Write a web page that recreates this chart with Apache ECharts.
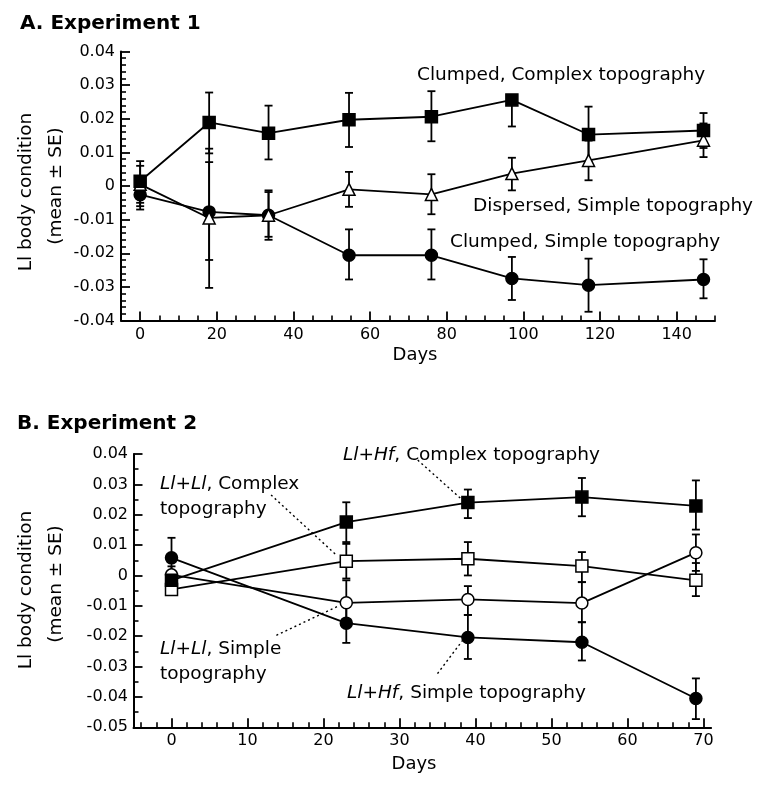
<!DOCTYPE html>
<html>
<head>
<meta charset="utf-8">
<script src="https://cdn.jsdelivr.net/npm/echarts@6/dist/echarts.min.js"></script>
<style>html,body{margin:0;padding:0;background:#fff;}#c{width:765px;height:787px;}</style>
</head>
<body>
<div id="c"></div>
<script>
// ---------- Panel A data (Experiment 1) ----------
const daysA = [0, 18, 33.5, 54.5, 76, 97, 117, 147];
const clumpedComplexMean = [0.0014, 0.0189, 0.0157, 0.0197, 0.0206, 0.0256, 0.0153, 0.0165];
const clumpedComplexLow  = [-0.005, 0.0097, 0.0079, 0.0116, 0.0133, 0.0177, 0.0072, 0.0113];
const clumpedComplexHigh = [0.0074, 0.0278, 0.0239, 0.0277, 0.0282, 0.0270, 0.0236, 0.0217];
const dispersedSimpleMean = [0.0005, -0.0095, -0.0087, -0.0010, -0.0025, 0.0037, 0.0076, 0.0136];
const dispersedSimpleLow  = [-0.006, -0.0303, -0.0160, -0.0062, -0.0084, -0.0013, 0.0017, 0.0086];
const dispersedSimpleHigh = [0.006, 0.0111, -0.0013, 0.0042, 0.0035, 0.0084, 0.0135, 0.0186];
const clumpedSimpleMean = [-0.0026, -0.0077, -0.0087, -0.0206, -0.0206, -0.0275, -0.0295, -0.0278];
const clumpedSimpleLow  = [-0.0070, -0.0220, -0.0151, -0.0278, -0.0278, -0.0339, -0.0374, -0.0334];
const clumpedSimpleHigh = [0.0020, 0.0071, -0.0018, -0.0129, -0.0129, -0.0211, -0.0216, -0.0218];

// ---------- Panel B data (Experiment 2) ----------
const daysB = [0, 23, 39, 54, 69];
const hfComplexMean = [-0.0016, 0.0176, 0.0240, 0.0258, 0.0229];
const hfComplexLow  = [-0.0050, 0.0110, 0.0189, 0.0195, 0.0151];
const hfComplexHigh = [0.0010, 0.0241, 0.0283, 0.0321, 0.0313];
const llComplexMean = [-0.0046, 0.0047, 0.0055, 0.0031, -0.0016];
const llComplexLow  = [-0.0062, -0.0010, 0.0000, -0.0022, -0.0068];
const llComplexHigh = [-0.0030, 0.0104, 0.0110, 0.0077, 0.0041];
const llSimpleMean = [0.0002, -0.0090, -0.0079, -0.0091, 0.0075];
const llSimpleLow  = [-0.0030, -0.0155, -0.0130, -0.0154, 0.0015];
const llSimpleHigh = [0.0030, -0.0016, -0.0035, -0.0022, 0.0135];
const hfSimpleMean = [0.0058, -0.0157, -0.0204, -0.0220, -0.0405];
const hfSimpleLow  = [-0.0010, -0.0222, -0.0275, -0.0280, -0.0473];
const hfSimpleHigh = [0.0124, -0.0090, -0.0130, -0.0154, -0.0339];

// ---------- Tick values ----------
const xMajorA = [0, 20, 40, 60, 80, 100, 120, 140];
const xMinorA = [5, 10, 15, 25, 30, 35, 45, 50, 55, 65, 70, 75, 85, 90, 95, 105, 110, 115, 125, 130, 135, 145, 150];
const xMajorB = [0, 10, 20, 30, 40, 50, 60, 70];
const xMinorB = [-4, -2, 2, 4, 6, 8, 12, 14, 16, 18, 22, 24, 26, 28, 32, 34, 36, 38, 42, 44, 46, 48, 52, 54, 56, 58, 62, 64, 66, 68];

// ---------- Leader lines (panel B, data coords) ----------
const leaders = [
  [[13.1, 0.0265], [21.7, 0.0067]],
  [[32.4, 0.0380], [38.3, 0.0248]],
  [[13.8, -0.0197], [22.1, -0.0099]],
  [[35.0, -0.0323], [38.3, -0.0214]]
];

const FONT = '"DejaVu Sans", "Liberation Sans", sans-serif';
const BLACK = '#000';

function xAxesFor(grid, min, max, major, minor) {
  return [
    {
      type: 'value', gridIndex: grid, min: min, max: max, position: 'bottom',
      axisLine: { show: true, onZero: false, lineStyle: { color: BLACK, width: 2 } },
      axisTick: { show: true, inside: true, length: 9, customValues: major, lineStyle: { color: BLACK, width: 1.8 } },
      axisLabel: { show: true, customValues: major, margin: 6, color: BLACK, fontSize: 16, fontFamily: FONT },
      splitLine: { show: false }
    },
    {
      type: 'value', gridIndex: grid, min: min, max: max, position: 'bottom',
      axisLine: { show: false, onZero: false },
      axisTick: { show: true, inside: true, length: 5, customValues: minor, lineStyle: { color: BLACK, width: 1.6 } },
      axisLabel: { show: false },
      splitLine: { show: false }
    }
  ];
}

function yAxisFor(grid, min, max, minorSplit, margin) {
  return {
    type: 'value', gridIndex: grid, min: min, max: max, interval: 0.01,
    axisLine: { show: true, onZero: false, lineStyle: { color: BLACK, width: 2 } },
    axisTick: { show: true, inside: true, length: 9, lineStyle: { color: BLACK, width: 1.8 } },
    minorTick: { show: true, splitNumber: minorSplit, length: 5, lineStyle: { color: BLACK, width: 1.6 } },
    axisLabel: {
      margin: margin, color: BLACK, fontSize: 16, fontFamily: FONT,
      formatter: v => (Math.abs(v) < 1e-9 ? '0' : v.toFixed(2))
    },
    splitLine: { show: false }
  };
}

function errSeries(xi, yi, days, low, high) {
  return {
    type: 'custom', xAxisIndex: xi, yAxisIndex: yi, z: 1, silent: true,
    data: days.map((d, i) => [d, low[i], high[i]]),
    encode: { x: 0, y: [1, 2] },
    renderItem: function (params, api) {
      const x = api.value(0);
      const lo = api.coord([x, api.value(1)]);
      const hi = api.coord([x, api.value(2)]);
      const w = 4;
      const st = { stroke: BLACK, lineWidth: 1.8 };
      return {
        type: 'group',
        children: [
          { type: 'line', shape: { x1: lo[0], y1: lo[1], x2: hi[0], y2: hi[1] }, style: st },
          { type: 'line', shape: { x1: lo[0] - w, y1: lo[1], x2: lo[0] + w, y2: lo[1] }, style: st },
          { type: 'line', shape: { x1: hi[0] - w, y1: hi[1], x2: hi[0] + w, y2: hi[1] }, style: st }
        ]
      };
    }
  };
}

function lineSeries(xi, yi, days, mean, symbol, filled) {
  return {
    type: 'line', xAxisIndex: xi, yAxisIndex: yi, z: 3,
    data: days.map((d, i) => [d, mean[i]]),
    symbol: symbol, symbolSize: 12,
    showSymbol: true, showAllSymbol: true,
    itemStyle: { color: filled ? BLACK : '#fff', borderColor: BLACK, borderWidth: 1.5 },
    lineStyle: { color: BLACK, width: 1.8 },
    emphasis: { disabled: true }
  };
}

const series = [
  errSeries(0, 0, daysA, clumpedComplexLow, clumpedComplexHigh),
  errSeries(0, 0, daysA, dispersedSimpleLow, dispersedSimpleHigh),
  errSeries(0, 0, daysA, clumpedSimpleLow, clumpedSimpleHigh),
  lineSeries(0, 0, daysA, clumpedSimpleMean, 'circle', true),
  lineSeries(0, 0, daysA, dispersedSimpleMean, 'triangle', false),
  lineSeries(0, 0, daysA, clumpedComplexMean, 'rect', true),

  errSeries(2, 1, daysB, hfComplexLow, hfComplexHigh),
  errSeries(2, 1, daysB, llComplexLow, llComplexHigh),
  errSeries(2, 1, daysB, llSimpleLow, llSimpleHigh),
  errSeries(2, 1, daysB, hfSimpleLow, hfSimpleHigh),
  lineSeries(2, 1, daysB, hfSimpleMean, 'circle', true),
  lineSeries(2, 1, daysB, llSimpleMean, 'circle', false),
  lineSeries(2, 1, daysB, llComplexMean, 'rect', false),
  lineSeries(2, 1, daysB, hfComplexMean, 'rect', true)
];

leaders.forEach(seg => {
  series.push({
    type: 'line', xAxisIndex: 2, yAxisIndex: 1, z: 2, silent: true,
    data: seg, showSymbol: false, symbol: 'none',
    lineStyle: { color: BLACK, width: 1.4, type: [2, 3] }
  });
});

function txt(x, y, text, size, opts) {
  opts = opts || {};
  return {
    type: 'text', x: x, y: y, rotation: opts.rotation || 0, z: 10, silent: true,
    style: {
      text: text, fill: BLACK,
      font: (opts.weight || 'normal') + ' ' + size + 'px ' + FONT,
      textAlign: opts.align || 'left', textVerticalAlign: 'middle',
      rich: {
        i: { fontStyle: 'italic', fontSize: size, fontFamily: FONT, fill: BLACK },
        n: { fontSize: size, fontFamily: FONT, fill: BLACK }
      }
    }
  };
}

const ANN = 18.5;
const graphics = [
  txt(20, 24, 'A. Experiment 1', 20, { weight: 'bold' }),
  txt(17, 424, 'B. Experiment 2', 20, { weight: 'bold' }),
  txt(26, 192, 'Ll body condition', ANN, { rotation: Math.PI / 2, align: 'center' }),
  txt(56, 186, '(mean ± SE)', ANN, { rotation: Math.PI / 2, align: 'center' }),
  txt(26, 590, 'Ll body condition', ANN, { rotation: Math.PI / 2, align: 'center' }),
  txt(56, 584, '(mean ± SE)', ANN, { rotation: Math.PI / 2, align: 'center' }),
  txt(415, 355, 'Days', 18, { align: 'center' }),
  txt(414, 764, 'Days', 18, { align: 'center' }),
  txt(417, 75, 'Clumped, Complex topography', ANN),
  txt(473, 206, 'Dispersed, Simple topography', ANN),
  txt(450, 242, 'Clumped, Simple topography', ANN),
  txt(343, 455, '{i|Ll}{n|+}{i|Hf}{n|, Complex topography}', ANN),
  txt(160, 484, '{i|Ll}{n|+}{i|Ll}{n|, Complex}', ANN),
  txt(160, 509, 'topography', ANN),
  txt(160, 649, '{i|Ll}{n|+}{i|Ll}{n|, Simple}', ANN),
  txt(160, 674, 'topography', ANN),
  txt(347, 693, '{i|Ll}{n|+}{i|Hf}{n|, Simple topography}', ANN)
];

const chart = echarts.init(document.getElementById('c'), null, { renderer: 'canvas' });
chart.setOption({
  animation: false,
  backgroundColor: '#fff',
  grid: [
    { left: 121, top: 51.5, width: 594, height: 269 },
    { left: 133.5, top: 454, width: 577.6, height: 273.3 }
  ],
  xAxis: [].concat(xAxesFor(0, -5, 150, xMajorA, xMinorA), xAxesFor(1, -5, 71, xMajorB, xMinorB)),
  yAxis: [yAxisFor(0, -0.04, 0.04, 5, 6), yAxisFor(1, -0.05, 0.04, 2, 5.5)],
  series: series,
  graphic: graphics
});
</script>
</body>
</html>
